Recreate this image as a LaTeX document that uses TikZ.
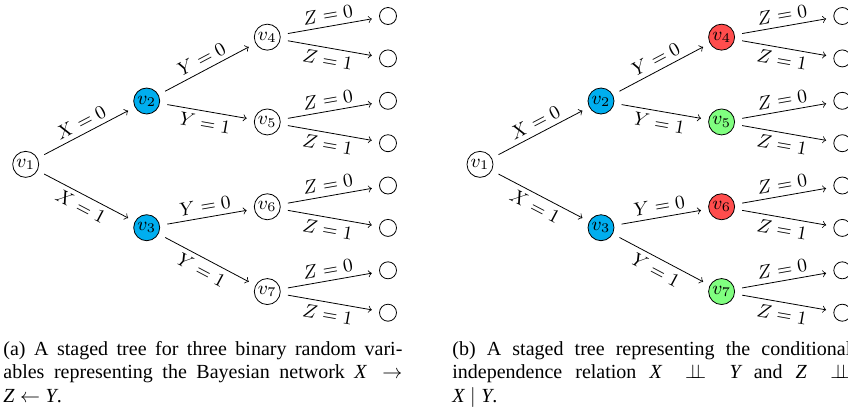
\RequirePackage{fix-cm}
\documentclass[tikz,border=0pt]{standalone}
\usepackage{fontspec}
\setmainfont{Liberation Serif}
\definecolor{stageblue}{RGB}{0,174,239}
\definecolor{stagered}{RGB}{255,77,77}
\definecolor{stagegreen}{RGB}{128,255,128}
\newcommand{\myindep}{\mathrel{\perp\!\!\!\perp}}
\newcommand{\stagedtree}[8]{%
  \begin{scope}[xshift=#2]
    \node[vnode,fill=white] (#1v1) at (25.7,164.35) {$v_1$};
    \node[vnode,fill=#3] (#1v2) at (146.7,101) {$v_2$};
    \node[vnode,fill=#4] (#1v3) at (146.7,227.7) {$v_3$};
    \node[vnode,fill=#5] (#1v4) at (267.3,37.15) {$v_4$};
    \node[vnode,fill=#6] (#1v5) at (267.3,121.95) {$v_5$};
    \node[vnode,fill=#7] (#1v6) at (267.3,206.75) {$v_6$};
    \node[vnode,fill=#8] (#1v7) at (267.3,291.55) {$v_7$};
    \node[leafnode] (#1l1) at (388,16.0) {};
    \node[leafnode] (#1l2) at (388,58.4) {};
    \node[leafnode] (#1l3) at (388,100.8) {};
    \node[leafnode] (#1l4) at (388,143.2) {};
    \node[leafnode] (#1l5) at (388,185.5) {};
    \node[leafnode] (#1l6) at (388,227.9) {};
    \node[leafnode] (#1l7) at (388,270.3) {};
    \node[leafnode] (#1l8) at (388,312.7) {};
    \draw[tedge] (#1v1) -- node[elab,above] {$X=0$} (#1v2);
    \draw[tedge] (#1v1) -- node[elab,below] {$X=1$} (#1v3);
    \draw[tedge] (#1v2) -- node[elab,above] {$Y=0$} (#1v4);
    \draw[tedge] (#1v2) -- node[elab,below] {$Y=1$} (#1v5);
    \draw[tedge] (#1v3) -- node[elab,above] {$Y=0$} (#1v6);
    \draw[tedge] (#1v3) -- node[elab,below] {$Y=1$} (#1v7);
    \draw[tedge] (#1v4) -- node[elab,above] {$Z=0$} (#1l1);
    \draw[tedge] (#1v4) -- node[elab,below] {$Z=1$} (#1l2);
    \draw[tedge] (#1v5) -- node[elab,above] {$Z=0$} (#1l3);
    \draw[tedge] (#1v5) -- node[elab,below] {$Z=1$} (#1l4);
    \draw[tedge] (#1v6) -- node[elab,above] {$Z=0$} (#1l5);
    \draw[tedge] (#1v6) -- node[elab,below] {$Z=1$} (#1l6);
    \draw[tedge] (#1v7) -- node[elab,above] {$Z=0$} (#1l7);
    \draw[tedge] (#1v7) -- node[elab,below] {$Z=1$} (#1l8);
  \end{scope}}
\begin{document}
\begin{tikzpicture}[x=0.5pt,y=-0.5pt,
  vnode/.style={circle,draw,minimum size=13pt,inner sep=0pt,font=\fontsize{9.5}{11}\selectfont},
  leafnode/.style={circle,draw,minimum size=8.5pt,inner sep=0pt},
  tedge/.style={->,shorten >=3.75pt,shorten <=3.75pt},
  elab/.style={font=\fontsize{9.5}{11}\selectfont,sloped,midway,inner sep=2.4pt},
  captext/.style={anchor=base west,inner sep=0pt,text width=199.5pt,align=justify,font=\fontsize{10}{11.6}\selectfont}]
\useasboundingbox (0,0) rectangle (848,414);
\stagedtree{a}{0pt}{stageblue}{stageblue}{white}{white}{white}{white}
\stagedtree{b}{227.15pt}{stageblue}{stageblue}{stagered}{stagegreen}{stagered}{stagegreen}
\node[captext] (capa) at (3,355.7) {(a) A staged tree for three binary random vari-\linebreak ables representing the Bayesian network $\textit{X} \rightarrow$\linebreak$\textit{Z} \leftarrow \textit{Y}$.};
\node[captext] (capb) at (452,355.7) {(b) A staged tree representing the conditional\linebreak independence relation $\textit{X} \myindep \textit{Y}$ and $\textit{Z} \myindep$\linebreak$\textit{X} \mid \textit{Y}$.};
\end{tikzpicture}
\end{document}
